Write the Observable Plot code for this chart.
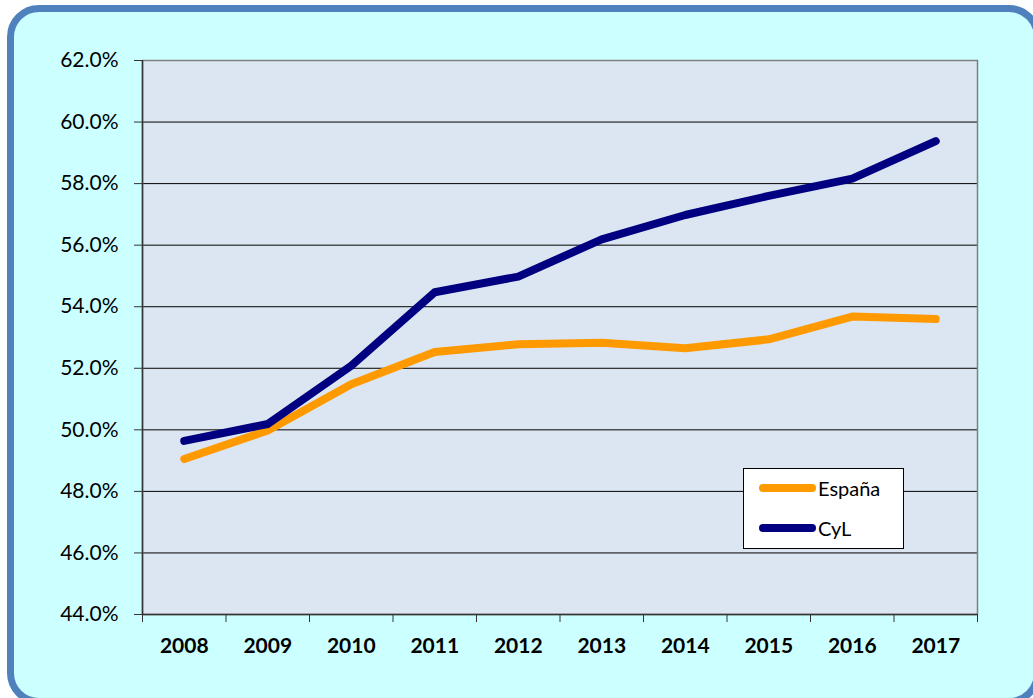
<!DOCTYPE html>
<html>
<head>
<meta charset="utf-8">
<script src="https://cdn.jsdelivr.net/npm/d3@7"></script>
<script src="https://cdn.jsdelivr.net/npm/@observablehq/plot@0.6"></script>
<style>
  html, body { margin: 0; padding: 0; background: #ffffff; overflow: hidden; }
  #page { position: relative; width: 1033px; height: 698px; overflow: hidden; }
  #box { position: absolute; left: 7px; top: 5px; width: 1034px; height: 700px; box-sizing: border-box;
         border: 7px solid #4f81bd; border-radius: 32px; background: #ccffff; }
  #chart { position: absolute; left: 0; top: 0; }
  #legend { position: absolute; left: 743px; top: 468px; width: 161px; height: 81px; box-sizing: border-box;
            background: #ffffff; border: 1px solid #000; font-family: Lato, "Open Sans", sans-serif; font-size: 20px; color: #000; }
  .item { position: absolute; left: 15px; display: flex; align-items: center; }
  .swatch { width: 57px; height: 8px; border-radius: 4px; margin-right: 2px; }
</style>
</head>
<body>
<div id="page">
  <div id="box"></div>
  <div id="chart"></div>
  <div id="legend"></div>
</div>
<script>
const years = [2008, 2009, 2010, 2011, 2012, 2013, 2014, 2015, 2016, 2017];
const espana = [49.05, 49.98, 51.48, 52.53, 52.78, 52.83, 52.65, 52.94, 53.68, 53.60];
const cyl = [49.64, 50.19, 52.08, 54.47, 54.98, 56.19, 56.98, 57.60, 58.16, 59.38];
const yTicks = [44, 46, 48, 50, 52, 54, 56, 58, 60, 62];
const seriesNames = ["España", "CyL"];
const seriesColors = ["#ff9900", "#000080"];

const data = [];
years.forEach((y, i) => {
  data.push({year: y, value: espana[i], serie: seriesNames[0]});
  data.push({year: y, value: cyl[i], serie: seriesNames[1]});
});
const bounds = years.map(y => y - 0.5).concat([years[years.length - 1] + 0.5]);

const chart = Plot.plot({
  width: 1033,
  height: 698,
  marginLeft: 142,
  marginRight: 56,
  marginTop: 60,
  marginBottom: 84,
  style: {background: "transparent", fontFamily: "Lato, 'Open Sans', sans-serif", fontSize: "20px", color: "#000"},
  x: {domain: [bounds[0], bounds[bounds.length - 1]]},
  y: {domain: [44, 62]},
  color: {domain: seriesNames, range: seriesColors},
  marks: [
    Plot.frame({fill: "#dce6f2", stroke: null}),
    Plot.gridY(yTicks, {stroke: "#000", strokeOpacity: 1, strokeWidth: 1}),
    Plot.frame({stroke: "#7f7f7f", strokeWidth: 1.5}),
    Plot.ruleX([bounds[0]], {stroke: "#333", strokeWidth: 1.5}),
    Plot.ruleY([44], {stroke: "#333", strokeWidth: 1.5}),
    Plot.axisY(yTicks, {tickSize: 8, tickPadding: 16, tickFormat: d => d.toFixed(1) + "%", stroke: "#333", fontSize: 21, label: null}),
    Plot.axisX(bounds, {tickSize: 8, tickFormat: () => "", stroke: "#333", label: null}),
    Plot.axisX(years, {tickSize: 0, tickPadding: 24, tickFormat: d => String(d), fontWeight: "bold", fontSize: 21, label: null}),
    Plot.line(data, {x: "year", y: "value", z: "serie", stroke: "serie", strokeWidth: 8, strokeLinecap: "round", strokeLinejoin: "round"})
  ]
});
document.getElementById("chart").appendChild(chart);

const legend = document.getElementById("legend");
seriesNames.forEach((name, i) => {
  const item = document.createElement("div");
  item.className = "item";
  item.style.top = (i === 0 ? 7 : 47) + "px";
  const sw = document.createElement("div");
  sw.className = "swatch";
  sw.style.background = seriesColors[i];
  const label = document.createElement("span");
  label.textContent = name;
  item.appendChild(sw);
  item.appendChild(label);
  legend.appendChild(item);
});
</script>
</body>
</html>
